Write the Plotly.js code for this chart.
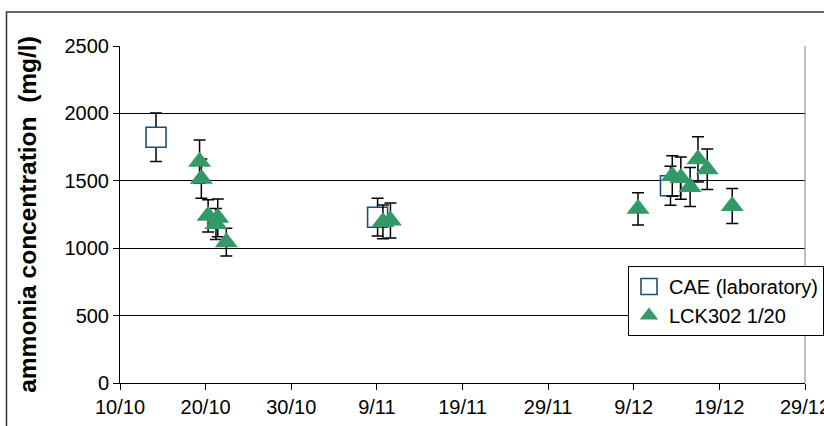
<!DOCTYPE html>
<html>
<head>
<meta charset="utf-8">
<script src="https://cdn.plot.ly/plotly-3.0.1.min.js"></script>
<style>html,body{margin:0;padding:0;background:#fff;}#chart{width:824px;height:426px;}</style>
</head>
<body>
<div id="chart"></div>
<script>
// CAE (laboratory) reference measurements
const caeDates  = ['2009-10-14 05:00', '2009-11-09 02:00', '2009-12-13 07:00'];
const caeValues = [1823, 1230, 1463];
const caeErr    = [180, 140, 145];

// LCK302 1/20 cuvette test measurements
const lckDates  = ['2009-10-19 07:00', '2009-10-19 12:00', '2009-10-20 07:00', '2009-10-21 05:00',
                   '2009-10-21 10:00', '2009-10-22 10:00', '2009-11-09 17:00', '2009-11-10 14:00',
                   '2009-12-09 12:00', '2009-12-13 12:00', '2009-12-14 12:00', '2009-12-15 14:00',
                   '2009-12-16 12:00', '2009-12-17 14:00', '2009-12-20 12:00'];
const lckValues = [1642, 1516, 1240, 1180, 1225, 1045, 1195, 1205, 1292, 1536, 1520, 1454, 1659, 1585, 1313];
const lckErr    = [160, 145, 120, 115, 140, 103, 125, 130, 120, 150, 157, 145, 167, 150, 130];

// axis ticks
const xTickVals = ['2009-10-10', '2009-10-20', '2009-10-30', '2009-11-09', '2009-11-19',
                   '2009-11-29', '2009-12-09', '2009-12-19', '2009-12-29'];
const xTickText = ['10/10', '20/10', '30/10', '9/11', '19/11', '29/11', '9/12', '19/12', '29/12'];
const yTickVals = [0, 500, 1000, 1500, 2000, 2500];

const FONT = "Arial, 'Liberation Sans', sans-serif";

const traces = [
  {
    type: 'scatter', mode: 'markers', name: 'CAE (laboratory)',
    x: caeDates, y: caeValues,
    error_y: {type: 'data', array: caeErr, visible: true, color: '#000', thickness: 1.5, width: 6},
    marker: {symbol: 'square', size: 20, color: '#ffffff', line: {color: '#1f4e79', width: 1.6}}
  },
  {
    type: 'scatter', mode: 'markers', name: 'LCK302 1/20',
    x: lckDates, y: lckValues,
    error_y: {type: 'data', array: lckErr, visible: true, color: '#000', thickness: 1.5, width: 6},
    marker: {symbol: 'triangle-up', size: 20, color: '#339966', line: {width: 0}}
  }
];

const layout = {
  width: 824, height: 426,
  margin: {l: 120, r: 19, t: 46, b: 43, pad: 0, autoexpand: false},
  paper_bgcolor: '#ffffff', plot_bgcolor: '#ffffff',
  font: {family: FONT, size: 20, color: '#000'},
  showlegend: true,
  legend: {
    x: 0.7416, y: 0.3472, xanchor: 'left', yanchor: 'top',
    bgcolor: '#ffffff', bordercolor: '#000', borderwidth: 1,
    font: {family: FONT, size: 20, color: '#000'},
    tracegroupgap: 0
  },
  xaxis: {
    type: 'date',
    range: ['2009-10-10', '2009-12-29'],
    tickmode: 'array', tickvals: xTickVals, ticktext: xTickText,
    ticks: 'outside', ticklen: 6, tickcolor: '#000', tickwidth: 1,
    ticklabeloverflow: 'allow',
    showline: true, linecolor: '#000', linewidth: 1,
    showgrid: false, zeroline: false,
    tickfont: {family: FONT, size: 20, color: '#000'}
  },
  yaxis: {
    range: [0, 2500],
    tickmode: 'array', tickvals: yTickVals,
    ticks: 'outside', ticklen: 6, tickcolor: '#000', tickwidth: 1,
    showline: true, linecolor: '#000', linewidth: 1,
    showgrid: true, gridcolor: '#000', gridwidth: 1,
    zeroline: false,
    tickfont: {family: FONT, size: 20, color: '#000'},
    title: {text: 'ammonia concentration  (mg/l)', font: {family: FONT, size: 24.5, color: '#000', weight: 'bold'}, standoff: 20}
  },
  shapes: [
    {type: 'line', xref: 'paper', yref: 'paper', x0: 1, x1: 1, y0: 0, y1: 1, line: {color: '#808080', width: 1}},
    {type: 'rect', xref: 'paper', yref: 'paper', x0: -0.1657, x1: 1.2, y0: -0.3, y1: 1.1009,
     line: {color: '#333', width: 1.5}, fillcolor: 'rgba(0,0,0,0)'}
  ]
};

Plotly.newPlot('chart', traces, layout, {displayModeBar: false, staticPlot: true});
</script>
</body>
</html>
